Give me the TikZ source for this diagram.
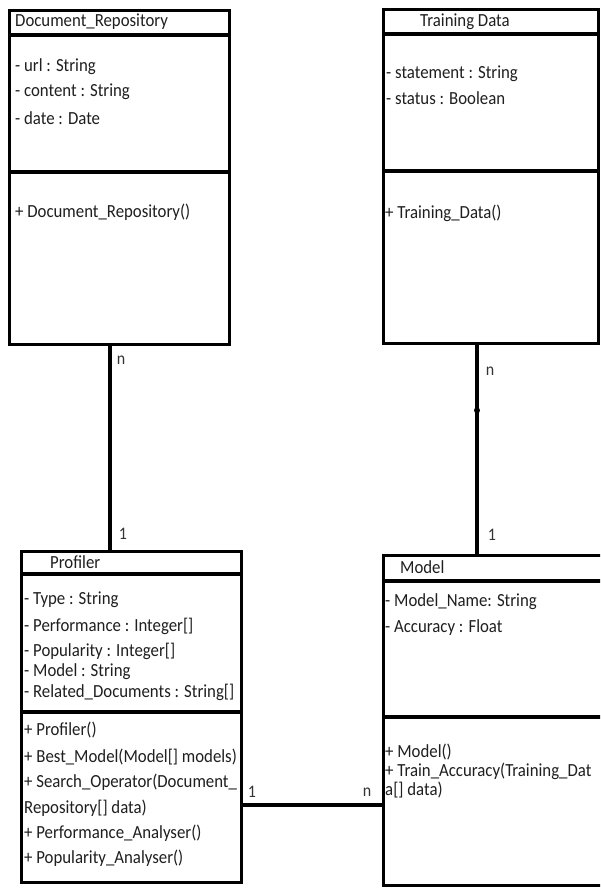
\documentclass[tikz,border=0pt]{standalone}
\usepackage{fontspec}
\usepackage{graphicx}
\setmainfont{Carlito}
\usetikzlibrary{calc}
\newcommand{\vst}[1]{\scalebox{1}[1.1]{#1}}
\begin{document}
\begin{tikzpicture}[x=1pt,y=-1pt,
  classbox/.style={draw=black, line width=3.4pt, fill=white, rectangle, inner sep=0pt, anchor=north west},
  sepline/.style={line width=3.4pt},
  conn/.style={line width=3.4pt},
  txt/.style={anchor=west, inner sep=0pt, font=\fontsize{16.8}{19}\selectfont, text=black!88},
  mult/.style={anchor=center, inner sep=0pt, font=\fontsize{16}{19}\selectfont, text=black!80}]
\useasboundingbox (0,0) rectangle (600,888);
\begin{scope}
\clip (0,0) rectangle (600,888);
% boxes
\node[classbox, minimum width=220pt, minimum height=334pt] (dr) at (8,9) {};
\node[classbox, minimum width=215pt, minimum height=334pt] (td) at (382,8) {};
\node[classbox, minimum width=220pt, minimum height=331pt] (pr) at (20,550) {};
\node[classbox, minimum width=230pt, minimum height=330pt] (md) at (382,554) {};
% compartment lines
\draw[sepline] ($(dr.north west)+(0,26)$) -- ($(dr.north east)+(0,26)$);
\draw[sepline] ($(dr.north west)+(0,163)$) -- ($(dr.north east)+(0,163)$);
\draw[sepline] ($(td.north west)+(0,26)$) -- ($(td.north east)+(0,26)$);
\draw[sepline] ($(td.north west)+(0,163)$) -- ($(td.north east)+(0,163)$);
\draw[sepline] ($(pr.north west)+(0,24)$) -- ($(pr.north east)+(0,24)$);
\draw[sepline] ($(pr.north west)+(0,162)$) -- ($(pr.north east)+(0,162)$);
\draw[sepline] ($(md.north west)+(0,27)$) -- ($(md.north east)+(0,27)$);
\draw[sepline] ($(md.north west)+(0,163)$) -- ($(md.north east)+(0,163)$);
% Document_Repository
\node[txt] (drt) at (15,22) {\vst{Document\_Repository}};
\node[txt] (dra1) at (15,67) {\vst{- url : String}};
\node[txt] (dra2) at (15,92) {\vst{- content : String}};
\node[txt] (dra3) at (15,118) {\vst{- date : Date}};
\node[txt] (drm1) at (15,212) {\vst{+ Document\_Repository()}};
% Training Data
\node[txt] (tdt) at (420,22) {\vst{Training Data}};
\node[txt] (tda1) at (386,74) {\vst{- statement : String}};
\node[txt] (tda2) at (386,98) {\vst{- status : Boolean}};
\node[txt] (tdm1) at (385,213) {\vst{+ Training\_Data()}};
% Profiler
\node[txt] (prt) at (50,562) {\vst{Profiler}};
\node[txt] (pra1) at (24,600) {\vst{- Type : String}};
\node[txt] (pra2) at (24,626) {\vst{- Performance : Integer[]}};
\node[txt] (pra3) at (24,651) {\vst{- Popularity : Integer[]}};
\node[txt] (pra4) at (24,672) {\vst{- Model : String}};
\node[txt] (pra5) at (24,692) {\vst{- Related\_Documents : String[]}};
\node[txt] (prm1) at (24,730) {\vst{+ Profiler()}};
\node[txt] (prm2) at (24,757) {\vst{+ Best\_Model(Model[] models)}};
\node[txt] (prm3) at (24,782) {\vst{+ Search\_Operator(Document\_}};
\node[txt] (prm4) at (24,808) {\vst{Repository[] data)}};
\node[txt] (prm5) at (24,833) {\vst{+ Performance\_Analyser()}};
\node[txt] (prm6) at (24,858) {\vst{+ Popularity\_Analyser()}};
% Model
\node[txt] (mdt) at (400,567) {\vst{Model}};
\node[txt] (mda1) at (385,602) {\vst{- Model\_Name: String}};
\node[txt] (mda2) at (385,628) {\vst{- Accuracy : Float}};
\node[txt] (mdm1) at (385,752) {\vst{+ Model()}};
\node[txt] (mdm2) at (385,771) {\vst{+ Train\_Accuracy(Training\_Dat}};
\node[txt] (mdm3) at (385,790) {\vst{a[] data)}};
% connectors
\draw[conn] ($(dr.south west)+(102,0)$) coordinate (c1a) -- ($(pr.north west)+(90,0)$) coordinate (c1b);
\draw[conn] ($(td.south west)+(95,0)$) coordinate (c2a) -- ($(md.north west)+(95,0)$) coordinate (c2b);
\fill ($(td.south west)+(95,65)$) circle (3pt);
\draw[conn] (pr.east |- 0,805) -- (md.west |- 0,805);
% multiplicities
\node[mult] (m1) at (121,360) {\vst{n}};
\node[mult] (m2) at (123,534) {\vst{1}};
\node[mult] (m3) at (490,371) {\vst{n}};
\node[mult] (m4) at (492,535) {\vst{1}};
\node[mult] (m5) at (252,792) {\vst{1}};
\node[mult] (m6) at (367,792) {\vst{n}};
\end{scope}
\end{tikzpicture}
\end{document}
